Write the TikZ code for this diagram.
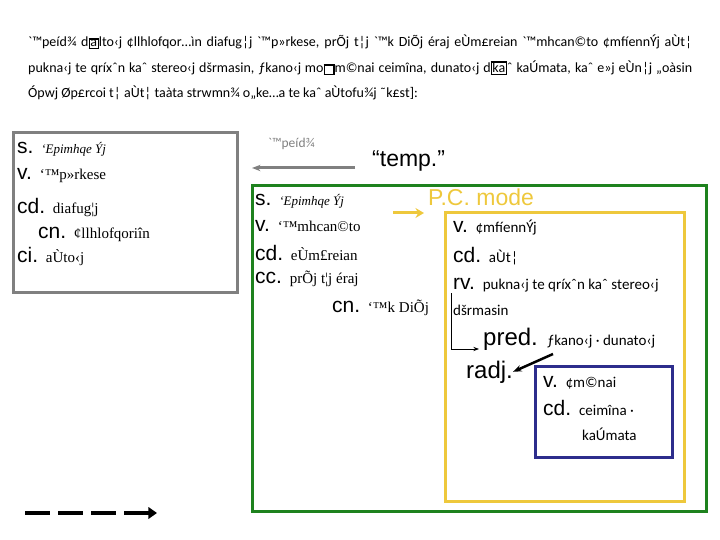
\documentclass[tikz,border=0pt]{standalone}
\usepackage{fontspec}
\usepackage{tikz}
\usetikzlibrary{arrows.meta}
\setmainfont{Liberation Serif}
\newfontfamily\arialfont{Liberation Sans}
\newfontfamily\grkfont{Carlito}
\definecolor{frgreen}{RGB}{30,130,30}
\definecolor{frgold}{RGB}{238,200,60}
\definecolor{frnavy}{RGB}{45,45,140}
\definecolor{frgray}{RGB}{128,128,128}
\newcommand{\tg}[1]{{\rmfamily\fontsize{15}{18}\selectfont #1}}
\newcommand{\sg}[1]{{\grkfont\fontsize{15}{18}\selectfont #1}}
\newcommand{\ig}[1]{{\rmfamily\itshape\fontsize{13}{15}\selectfont #1}}
\newcommand{\gbox}[1]{{\setlength{\fboxsep}{0.6pt}\setlength{\fboxrule}{1.2pt}\fbox{#1}}}
\newcommand{\fullline}[1]{\makebox[664pt][s]{#1}}

\begin{document}
\begin{tikzpicture}[x=1pt, y=-1pt,
    row/.style={anchor=base west, inner sep=0pt, font=\arialfont\fontsize{21}{24}\selectfont},
    para/.style={anchor=base west, inner sep=0pt, font=\grkfont\fontsize{14}{17}\selectfont},
    frame/.style={draw=#1, line width=3pt},
    arr/.style={-{Stealth[length=3mm]}, line width=3pt}
]
\useasboundingbox (0,0) rectangle (720,540);

\node[para] (p1) at (28,47) {\fullline{`™peíd¾ d\gbox{a}lto‹j ¢llhlofqor…ìn diafug¦j `™p»rkese, prÕj t¦j `™k DiÕj éraj eÙm£reian `™mhcan©to ¢mfíennÝj aÙt¦}};
\node[para] (p2) at (28,73) {\fullline{pukna‹j te qríxˆn kaˆ stereo‹j dšrmasin, ƒkano‹j mo\gbox{\phantom{o}}m©nai ceimîna, dunato‹j d\gbox{ka}ˆ kaÚmata, kaˆ e»j eÙn¦j „oàsin}};
\node[para] (p3) at (28,98) {Ópwj Øp£rcoi t¦ aÙt¦ taàta strwmn¾ o„ke…a te kaˆ aÙtofu¾j ˜k£st]:};

% left frame
\draw[frame=frgray] (13,133) rectangle (237,292);
\node[row] (ls) at (17,154) {s. \ig{`Epimhqe Ýj}};
\node[row] (lv) at (17,180) {v. \tg{`™p»rkese}};
\node[row] (lcd) at (17,214) {cd. \tg{diafug¦j}};
\node[row] (lcn) at (38,238) {cn. \tg{¢llhlofqoriîn}};
\node[row] (lci) at (17,262) {ci. \tg{aÙto‹j}};

% time arrow
\coordinate (tfrom) at (355,168);
\coordinate (tto) at (252,168);
\draw[arr, color=frgray] (tfrom) -- (tto);
\node[para, text=frgray, font=\grkfont\fontsize{13.5}{16}\selectfont] (tlab) at (268,148) {`™peíd¾};
\node[row, font=\arialfont\fontsize{23}{26}\selectfont] (temp) at (372,167) {“temp.”};

% green frame
\draw[frame=frgreen] (252,186) rectangle (706,511);
\node[row] (gs) at (255,206) {s. \ig{`Epimhqe Ýj}};
\node[row] (gv) at (255,232) {v. \tg{`™mhcan©to}};
\node[row] (gcd) at (255,260) {cd. \tg{eÙm£reian}};
\node[row] (gcc) at (255,283) {cc. \tg{prÕj t¦j éraj}};
\node[row] (gcn) at (332,312) {cn. \tg{`™k DiÕj}};

% participle
\coordinate (pfrom) at (393,213);
\coordinate (pto) at (424,213);
\draw[-{Stealth[length=3mm,width=3.5mm]}, line width=3pt, color=frgold] (pfrom) -- (pto);
\node[row, text=frgold, font=\arialfont\fontsize{23}{26}\selectfont] (pcm) at (428,206) {P.C. mode};
\draw[frame=frgold] (445,213) rectangle (684,501);
\node[row] (yv) at (453,233) {v. \sg{¢mfíennÝj}};
\node[row] (ycd) at (453,262) {cd. \sg{aÙt¦}};
\node[row] (yrv) at (453,289) {rv. \sg{pukna‹j te qríxˆn kaˆ stereo‹j}};
\node[para, font=\grkfont\fontsize{15}{18}\selectfont] (yrv2) at (453,315) {dšrmasin};
\node[row, font=\arialfont\fontsize{24}{27}\selectfont] (ypred) at (483,345) {pred. \sg{ƒkano‹j · dunato‹j}};
\node[row, font=\arialfont\fontsize{24}{27}\selectfont] (yradj) at (466,378) {radj.};
\coordinate (rvtop) at (451,293);
\coordinate (predin) at (479,349);
\draw[-{Stealth[length=2mm]}, thick] (rvtop) |- (predin);
\coordinate (adjsrc) at (553,354);
\draw[-{Stealth[length=3mm]}, line width=2.5pt] (adjsrc) -- (yradj.east);

% infinitive
\draw[frame=frnavy] (535,366) rectangle (672,457);
\node[row] (bv) at (543,387) {v. \sg{¢m©nai}};
\node[row] (bcd) at (543,415) {cd. \sg{ceimîna ·}};
\node[para, font=\grkfont\fontsize{15}{18}\selectfont] (bcd2) at (582,440) {kaÚmata};

% legend
\coordinate (lgfrom) at (25,513);
\coordinate (lgto) at (157,513);
\draw[-{Triangle[length=3mm,width=4mm]}, line width=4.5pt, dash pattern=on 25pt off 8pt] (lgfrom) -- (lgto);
\end{tikzpicture}
\end{document}
